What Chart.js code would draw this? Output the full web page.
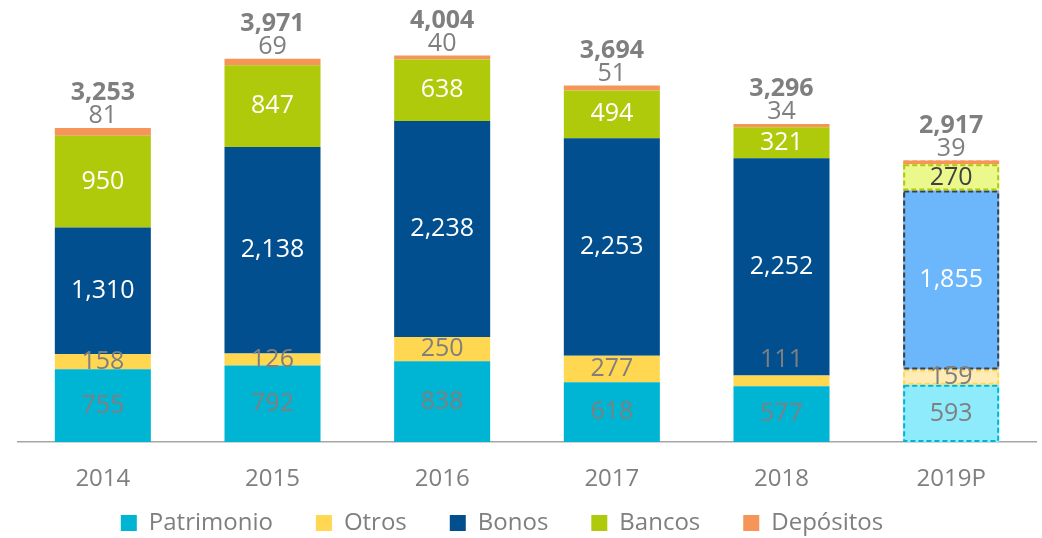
<!DOCTYPE html>
<html>
<head>
<meta charset="utf-8">
<script src="https://cdn.jsdelivr.net/npm/chart.js@4.4.1/dist/chart.umd.min.js"></script>
<style>
  html, body { margin: 0; padding: 0; background: #ffffff; }
  #wrap { width: 1042px; height: 538px; }
</style>
</head>
<body>
<div id="wrap"><canvas id="c" width="1042" height="538"></canvas></div>
<script>
// ---- data ----
const categories = ['2014', '2015', '2016', '2017', '2018', '2019P'];
const seriesNames = ['Patrimonio', 'Otros', 'Bonos', 'Bancos', 'Depósitos'];
const patrimonio = [755, 792, 838, 618, 577, 593];
const otros = [158, 126, 250, 277, 111, 159];
const bonos = [1310, 2138, 2238, 2253, 2252, 1855];
const bancos = [950, 847, 638, 494, 321, 270];
const depositos = [81, 69, 40, 51, 34, 39];
const totals = [3253, 3971, 4004, 3694, 3296, 2917];
const projected = [false, false, false, false, false, true];

// ---- styles ----
const baseColors = ['#00B4D4', '#FFD751', '#014F8F', '#AFCA0B', '#F59558'];
const projColors = ['#8DEBFC', '#FFEBB5', '#6CB6FB', '#EAF88C', '#F59558'];
const dashColors = ['#00B4D4', '#FFD751', '#404040', '#AFCA0B', '#F59558'];
const labelColors = ['#7F7F7F', '#7F7F7F', '#FFFFFF', '#FFFFFF', '#7F7F7F'];
const projLabelColors = ['#7F7F7F', '#7F7F7F', '#FFFFFF', '#404040', '#7F7F7F'];
const FONT = "'Open Sans', 'DejaVu Sans', sans-serif";

Chart.defaults.font.family = FONT;
Chart.defaults.color = '#7F7F7F';

const seriesValues = [patrimonio, otros, bonos, bancos, depositos];
const fmt = v => v.toLocaleString('en-US');

const datasets = seriesValues.map((vals, i) => ({
  label: seriesNames[i],
  data: vals,
  backgroundColor: categories.map((c, j) => projected[j] ? projColors[i] : baseColors[i]),
  borderWidth: 0,
  categoryPercentage: 1.0,
  barPercentage: 0.566
}));

const labelPlugin = {
  id: 'barLabels',
  afterDatasetsDraw(chart) {
    const ctx = chart.ctx;
    // dashed outlines for projected year
    chart.data.datasets.forEach((ds, i) => {
      const meta = chart.getDatasetMeta(i);
      meta.data.forEach((bar, j) => {
        if (!projected[j]) return;
        const p = bar.getProps(['x', 'y', 'base', 'width'], true);
        ctx.save();
        ctx.setLineDash([5, 3]);
        ctx.lineWidth = 2;
        ctx.strokeStyle = dashColors[i];
        ctx.strokeRect(p.x - p.width / 2 + 1, p.y + 1, p.width - 2, Math.max(p.base - p.y - 2, 0));
        ctx.restore();
      });
    });
    // value labels
    ctx.save();
    ctx.textAlign = 'center';
    ctx.textBaseline = 'middle';
    ctx.font = "25px " + FONT;
    const n = chart.data.datasets.length;
    chart.data.datasets.forEach((ds, i) => {
      const meta = chart.getDatasetMeta(i);
      meta.data.forEach((bar, j) => {
        const p = bar.getProps(['x', 'y', 'base'], true);
        ctx.fillStyle = projected[j] ? projLabelColors[i] : labelColors[i];
        let ly;
        if (i === n - 1) {
          ly = p.y - 12;
        } else if (p.base - p.y < 12) {
          ly = p.y - 16;
        } else {
          ly = (p.y + p.base) / 2;
        }
        ctx.fillText(fmt(ds.data[j]), p.x, ly);
      });
    });
    // totals
    const topMeta = chart.getDatasetMeta(n - 1);
    ctx.font = "bold 25px " + FONT;
    ctx.fillStyle = '#7F7F7F';
    topMeta.data.forEach((bar, j) => {
      const p = bar.getProps(['x', 'y'], true);
      ctx.fillText(fmt(totals[j]), p.x, p.y - 35);
    });
    ctx.restore();
  }
};

new Chart(document.getElementById('c'), {
  type: 'bar',
  data: { labels: categories, datasets },
  options: {
    responsive: false,
    animation: false,
    devicePixelRatio: 1,
    layout: { padding: { left: -32, right: 6, top: 0, bottom: -7 } },
    plugins: {
      legend: {
        position: 'bottom',
        labels: {
          boxWidth: 16,
          boxHeight: 16,
          padding: 43,
          color: '#7F7F7F',
          font: { size: 24, family: FONT }
        }
      },
      tooltip: { enabled: false }
    },
    scales: {
      x: {
        stacked: true,
        grid: { display: false },
        border: { display: true, color: '#A6A6A6', width: 1.5 },
        ticks: { color: '#7F7F7F', font: { size: 24, family: FONT }, padding: 15, maxRotation: 0 },
        afterFit(scale) {
          scale.height = 26;
          scale._computeLabelArea = () => undefined;
        }
      },
      y: {
        stacked: true,
        min: 0,
        max: 4580,
        display: true,
        grid: { display: false },
        border: { display: false },
        ticks: { display: false },
        afterFit(scale) { scale.width = 50; }
      }
    }
  },
  plugins: [labelPlugin]
});
</script>
</body>
</html>
